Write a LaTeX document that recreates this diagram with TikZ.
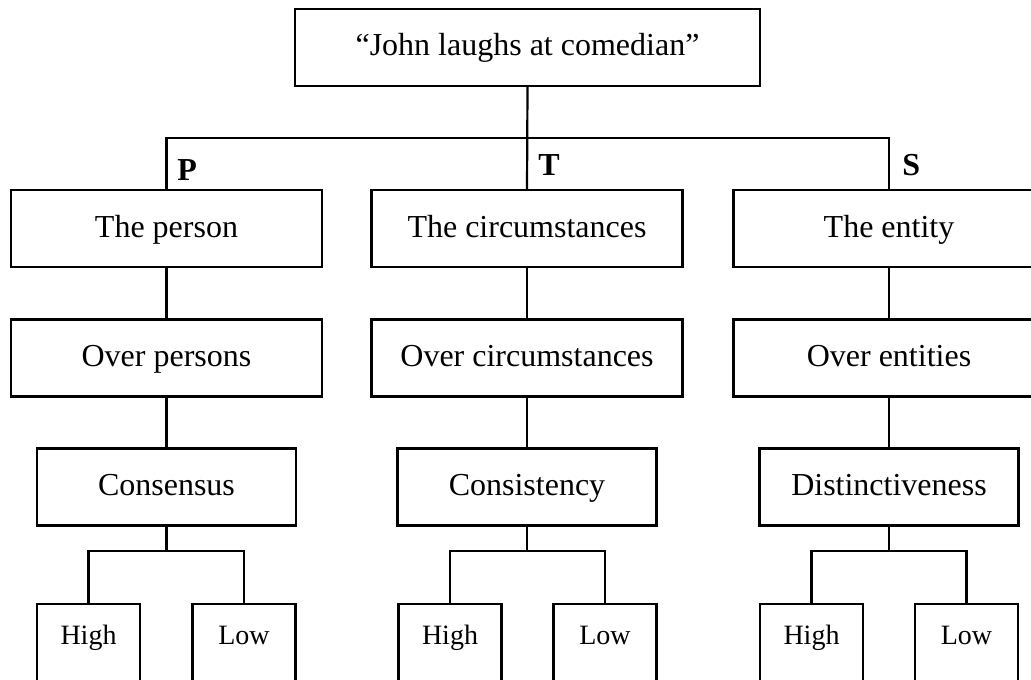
\documentclass[tikz,border=0pt]{standalone}
\usepackage{fontspec}
\setmainfont{Liberation Serif}

\begin{document}
\begin{tikzpicture}[x=0.5pt,y=-0.5pt]
\tikzset{
  attrbox/.style={draw,line width=1.1pt,minimum height=38.5pt,inner sep=0pt,
    text height=12pt,text depth=3.5pt,font=\fontsize{16}{19}\selectfont},
  widebox/.style={attrbox,minimum width=155.5pt},
  midbox/.style={attrbox,minimum width=129.5pt},
  leafbox/.style={draw,line width=1.1pt,anchor=north,minimum width=51.5pt,inner sep=0pt,
    text height=20pt,text depth=40pt,font=\fontsize{14}{17}\selectfont},
  dimlabel/.style={anchor=base west,inner sep=0pt,font=\fontsize{16}{19}\selectfont\bfseries},
  link/.style={line width=1.1pt}
}
\useasboundingbox (0,0) rectangle (1031,679);
\node[attrbox,minimum width=232.5pt] (n_event) at (527.5,47.5) {“John laughs at comedian”};
\coordinate (c_top) at (527.5,138);
% person branch
\node[widebox] (n_person) at (166.5,228.5) {The person};
\node[widebox] (n_overp) at (166.5,358) {Over persons};
\node[midbox] (n_consensus) at (166.5,487) {Consensus};
\coordinate (c_split1) at (166.5,551);
\node[leafbox] (n_high1) at (88.5,603) {High};
\node[leafbox] (n_low1) at (244,603) {Low};
% circumstances branch
\node[widebox] (n_circ) at (527,228.5) {The circumstances};
\node[widebox] (n_overc) at (527,358) {Over circumstances};
\node[midbox] (n_consistency) at (527,487) {Consistency};
\coordinate (c_split2) at (527,551);
\node[leafbox] (n_high2) at (450,603) {High};
\node[leafbox] (n_low2) at (605,603) {Low};
% entity branch
\node[widebox] (n_entity) at (889,228.5) {The entity};
\node[widebox] (n_overe) at (889,358) {Over entities};
\node[midbox] (n_distinct) at (889,487) {Distinctiveness};
\coordinate (c_split3) at (889,551);
\node[leafbox] (n_high3) at (811.5,603) {High};
\node[leafbox] (n_low3) at (966.5,603) {Low};
% labels
\node[dimlabel] (l_p) at (177,181) {P};
\node[dimlabel] (l_t) at (538,176) {T};
\node[dimlabel] (l_s) at (902,176) {S};
% connectors
\draw[link] (n_event.south) -- (n_circ.north);
\draw[link] (n_person.north) |- (c_top);
\draw[link] (n_entity.north) |- (c_top);
\draw[link] (n_person) -- (n_overp);
\draw[link] (n_overp) -- (n_consensus);
\draw[link] (n_consensus) -- (c_split1);
\draw[link] (n_high1.north) |- (c_split1);
\draw[link] (n_low1.north) |- (c_split1);
\draw[link] (n_circ) -- (n_overc);
\draw[link] (n_overc) -- (n_consistency);
\draw[link] (n_consistency) -- (c_split2);
\draw[link] (n_high2.north) |- (c_split2);
\draw[link] (n_low2.north) |- (c_split2);
\draw[link] (n_entity) -- (n_overe);
\draw[link] (n_overe) -- (n_distinct);
\draw[link] (n_distinct) -- (c_split3);
\draw[link] (n_high3.north) |- (c_split3);
\draw[link] (n_low3.north) |- (c_split3);
\end{tikzpicture}
\end{document}
